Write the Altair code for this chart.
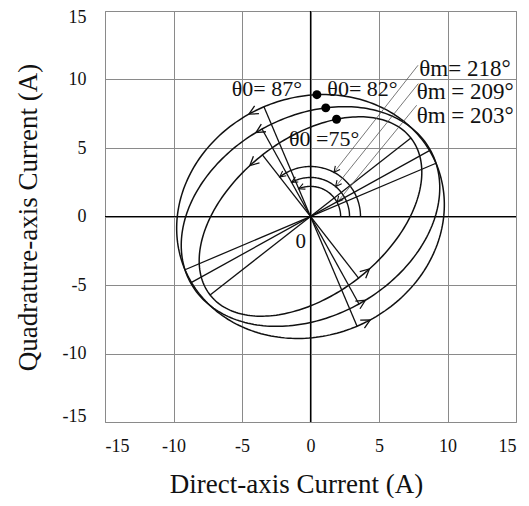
import altair as alt
import numpy as np
import pandas as pd

# ---- values ----
# index 0: inner trajectory, 1: middle, 2: outer
theta_m = [218, 209, 203]          # major-axis angle (deg)
semi_major = [9.3, 10.0, 9.95]     # A
semi_minor = [5.7, 7.3, 8.7]       # A
theta_0 = [75, 82, 87]             # start-point angle (deg)
arc_radius = [3.65, 2.85, 2.2]     # angle-marker arcs (A)
arrow_upper_left = [140, 123, 121]   # polar angle of direction arrows (deg)
arrow_lower_right = [-41.7, -56.8, -60]
tick_values = [-15, -10, -5, 0, 5, 10, 15]

theta0_labels = ["θ0 =75°", "θ0= 82°", "θ0= 87°"]
theta0_label_x = [-1.57, 1.23, -5.75]
theta0_label_y = [5.12, 8.77, 8.77]
thetam_labels = ["θm= 218°", "θm = 209°", "θm = 203°"]
thetam_label_x = [7.94, 7.75, 7.75]
thetam_label_y = [10.23, 8.55, 6.84]
leader_start_x = [7.85, 7.87, 7.75]
leader_start_y = [11.04, 9.7, 8.12]
leader_end_angle = [62, 50, 28]
origin_label = ["0"]
origin_label_x = [-0.71]
origin_label_y = [-2.32]

FONT = "Liberation Serif"
INK = "#111111"


def ell_t(i, t):
    phi = np.radians(theta_m[i] - 180)
    a, b = semi_major[i], semi_minor[i]
    x = a * np.cos(t) * np.cos(phi) - b * np.sin(t) * np.sin(phi)
    y = a * np.cos(t) * np.sin(phi) + b * np.sin(t) * np.cos(phi)
    dx = -a * np.sin(t) * np.cos(phi) - b * np.cos(t) * np.sin(phi)
    dy = -a * np.sin(t) * np.sin(phi) + b * np.cos(t) * np.cos(phi)
    return x, y, dx, dy


def t_of_polar(i, ang):
    al = np.radians(ang - (theta_m[i] - 180))
    return np.arctan2(semi_major[i] * np.sin(al), semi_minor[i] * np.cos(al))


def screen_angle(dx, dy):
    return float(np.degrees(np.arctan2(-dy, dx)) % 360)


# ellipses
rows = []
for i in range(3):
    ts = np.linspace(0, 2 * np.pi, 241)
    x, y, _, _ = ell_t(i, ts)
    for k in range(len(ts)):
        rows.append({"id": f"e{i}", "o": k, "x": x[k], "y": y[k]})
ellipses = pd.DataFrame(rows)

# arcs
rows = []
for i in range(3):
    angs = np.linspace(0, theta_m[i] - 90, 80)
    for k, g in enumerate(angs):
        rows.append({"id": f"a{i}", "o": k,
                     "x": arc_radius[i] * np.cos(np.radians(g)),
                     "y": arc_radius[i] * np.sin(np.radians(g))})
arcs = pd.DataFrame(rows)

# diameters (major + minor axes)
rows = []
for i in range(3):
    for off in (0.0, np.pi / 2):
        x1, y1, _, _ = ell_t(i, off)
        x2, y2, _, _ = ell_t(i, off + np.pi)
        rows.append({"x": x1, "y": y1, "x2": x2, "y2": y2})
diam = pd.DataFrame(rows)

axes_df = pd.DataFrame({"x": [-15, 0], "y": [0, -15], "x2": [15, 0], "y2": [0, 15]})

# leaders
rows = []
for i in range(3):
    g = np.radians(leader_end_angle[i])
    rows.append({"x": leader_start_x[i], "y": leader_start_y[i],
                 "x2": arc_radius[i] * np.cos(g), "y2": arc_radius[i] * np.sin(g)})
leaders = pd.DataFrame(rows)

# arrowheads
big, small = [], []
for i in range(3):
    for ang in (arrow_upper_left[i], arrow_lower_right[i]):
        t = t_of_polar(i, ang)
        x, y, dx, dy = ell_t(i, t)
        big.append({"x": float(x), "y": float(y), "ang": screen_angle(dx, dy)})
    g = np.radians(theta_m[i] - 90)
    small.append({"x": arc_radius[i] * np.cos(g), "y": arc_radius[i] * np.sin(g),
                  "ang": screen_angle(-np.sin(g), np.cos(g))})
    r = leaders.iloc[i]
    small.append({"x": r.x2, "y": r.y2, "ang": screen_angle(r.x2 - r.x, r.y2 - r.y)})
big = pd.DataFrame(big)
small = pd.DataFrame(small)

dots = []
for i in range(3):
    t = t_of_polar(i, theta_0[i])
    x, y, _, _ = ell_t(i, t)
    dots.append({"x": float(x), "y": float(y)})
dots = pd.DataFrame(dots)

t0 = pd.DataFrame({"x": theta0_label_x, "y": theta0_label_y, "t": theta0_labels})
tm = pd.DataFrame({"x": thetam_label_x, "y": thetam_label_y, "t": thetam_labels})
t_or = pd.DataFrame({"x": origin_label_x, "y": origin_label_y, "t": origin_label})

sc = alt.Scale(domain=[-15, 15], nice=False, zero=False)


def X():
    return alt.X("x:Q", scale=sc, axis=alt.Axis(
        values=tick_values, title="Direct-axis Current (A)", grid=True,
        domain=False, ticks=False, labelPadding=15, titleX=191, titleY=70,
        titleBaseline="alphabetic", titleAlign="center", labelExpr="'' + datum.value"))


def Y():
    return alt.Y("y:Q", scale=sc, axis=alt.Axis(
        values=tick_values, title="Quadrature-axis Current (A)", grid=True,
        domain=False, ticks=False, labelPadding=19, titleX=-77, titleY=206,
        titleAngle=270, titleBaseline="middle", titleAlign="center",
        labelFlush=True, labelFlushOffset=3,
        labelExpr="'' + datum.value"))


arrow_path = "M-2,-1L0,0L-2,1"

layers = [
    alt.Chart(axes_df).mark_rule(color="black", strokeWidth=1.2).encode(x=X(), y=Y(), x2="x2", y2="y2"),
    alt.Chart(ellipses).mark_line(color=INK, strokeWidth=1.5).encode(x=X(), y=Y(), order="o:Q", detail="id:N"),
    alt.Chart(diam).mark_rule(color=INK, strokeWidth=1.3).encode(x=X(), y=Y(), x2="x2", y2="y2"),
    alt.Chart(arcs).mark_line(color=INK, strokeWidth=1.4).encode(x=X(), y=Y(), order="o:Q", detail="id:N"),
    alt.Chart(leaders).mark_rule(color="#555555", strokeWidth=0.8).encode(x=X(), y=Y(), x2="x2", y2="y2"),
    alt.Chart(big).mark_point(shape=arrow_path, filled=False, color=INK, strokeWidth=1.3, size=80, opacity=1).encode(
        x=X(), y=Y(), angle=alt.Angle("ang:Q", scale=None)),
    alt.Chart(small).mark_point(shape=arrow_path, filled=False, color=INK, strokeWidth=1.1, size=36, opacity=1).encode(
        x=X(), y=Y(), angle=alt.Angle("ang:Q", scale=None)),
    alt.Chart(dots).mark_circle(color="black", size=80, opacity=1).encode(x=X(), y=Y()),
    alt.Chart(t0).mark_text(font=FONT, fontSize=22, align="left", baseline="alphabetic", color=INK).encode(
        x=X(), y=Y(), text="t:N"),
    alt.Chart(tm).mark_text(font=FONT, fontSize=23, align="left", baseline="alphabetic", color=INK).encode(
        x=X(), y=Y(), text="t:N"),
    alt.Chart(t_or).mark_text(font=FONT, fontSize=21, align="center", baseline="alphabetic", color=INK).encode(
        x=X(), y=Y(), text="t:N"),
]

chart = alt.layer(*layers).properties(
    width=411, height=411,
    autosize=alt.AutoSizeParams(type="none"),
    padding={"left": 97, "top": 3, "right": 5, "bottom": 76},
).configure_axis(
    labelFont=FONT, labelFontSize=18, labelColor=INK,
    titleFont=FONT, titleFontSize=27, titleFontWeight="normal", titleColor=INK,
    gridColor="#8a8a8a", gridWidth=1, gridOpacity=1,
).configure_view(stroke="#8a8a8a", strokeWidth=1)

chart.save("out.html", embed_options={"renderer": "svg", "actions": False})
